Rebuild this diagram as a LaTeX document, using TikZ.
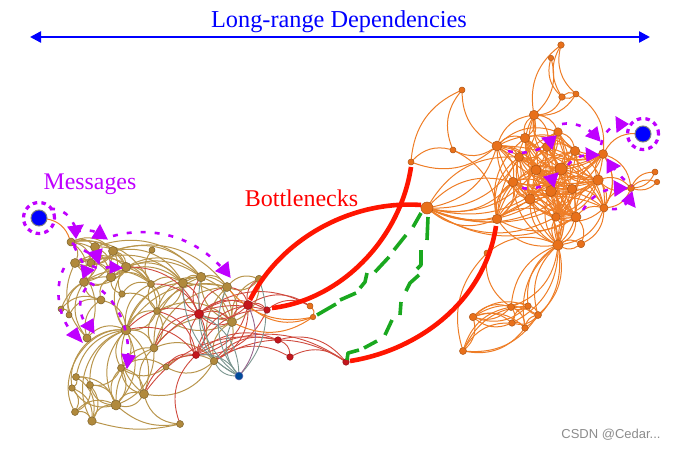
\documentclass[tikz,border=0pt]{standalone}
\usepackage{fontspec}
\setmainfont{Liberation Serif}
\newfontfamily\wmfont{Liberation Sans}
\usetikzlibrary{arrows.meta,backgrounds}
\pgfdeclarelayer{edgelayer}
\pgfsetlayers{edgelayer,main}
\definecolor{tanfill}{HTML}{B0893C}
\definecolor{tanedge}{HTML}{B8954C}
\definecolor{orafill}{HTML}{E8701A}
\definecolor{oraedge}{HTML}{EE7D26}
\definecolor{redfill}{HTML}{C4161C}
\definecolor{rededge}{HTML}{CF4A3E}
\definecolor{greyedge}{HTML}{7B9690}
\definecolor{plumedge}{HTML}{96648C}
\definecolor{msg}{HTML}{BF00FF}
\definecolor{gr}{HTML}{1AA81F}
\definecolor{thred}{HTML}{FF1500}
\tikzset{
 every node/.style={inner sep=0pt,outer sep=0pt},
 tann/.style={circle,draw=tanfill!70!black,fill=tanfill,line width=.5pt},
 oran/.style={circle,draw=orafill!75!black,fill=orafill,line width=.5pt},
 redn/.style={circle,draw=redfill!75!black,fill=redfill,line width=.5pt},
 bluen/.style={circle,draw=black!50,fill=blue,line width=1pt,minimum size=16pt},
 tane/.style={draw=tanedge,line width=1pt,bend left=34},
 orae/.style={draw=oraedge,line width=1pt,bend left=30},
 rede/.style={draw=rededge,line width=.9pt,bend left=32},
 greye/.style={draw=greyedge,line width=.9pt,bend left=30},
 msgpath/.style={draw=msg,line width=2.6pt,dash pattern=on 5pt off 9pt},
 msgtip/.style={fill=msg,draw=msg,line width=1pt,line join=miter},
 thickred/.style={draw=thred,line width=4.6pt},
 greendash/.style={draw=gr,line width=3.6pt,line cap=butt,line join=round},
 ring/.style={circle,draw=msg,line width=3.2pt,dash pattern=on 4.5pt off 4.2pt,minimum size=31pt},
}
\begin{document}
\begin{tikzpicture}[x=1pt,y=-1pt]
\useasboundingbox (0,0) rectangle (675,450);
% nodes
\foreach \n/\x/\y/\s in {
l1/71/242/7,l2/95/247/8,l3/113/251/8,l4/152/250/5,l5/75/263/8,l6/91/263/7,l7/126/267/8.5,
l8/111/277/8.5,l9/84/282/8,l10/151/284/6,l11/183/283/8,l12/201/277/8.5,l13/227/287/8,l14/259/279/6.5,
l15/101/300/7,l16/122/294/5.5,l17/61/309/5,l18/69/315/5,l19/157/311/6,l20/87/338/7,l21/126/330/9,
l22/154/348/7,l23/232/322/8,l24/214/361/6.5,l25/166/367/5,l26/121/368/6,l27/76/377/6,l28/72/388/5.5,
l29/90/385/6,l30/144/394/8,l31/116/405/9,l32/75/412/6,l33/92/421/7.5,l34/180/424/6}
 \node[tann,minimum size={\s pt+1pt}] (\n) at (\x,\y) {};
\foreach \n/\x/\y/\s in {
r1/199/314/8,r2/248/305/8,r3/267/310/5.5,r4/196/355/6,r5/278/340/5.5,r7/290/357/5.5,r8/346/362/5.5}
 \node[redn,minimum size={\s pt+1pt}] (\n) at (\x,\y) {};
\node[circle,draw=black!50!blue!60,fill=blue!50!cyan!60!black,minimum size=8pt,line width=.5pt] (bl) at (239,376) {};
\foreach \n/\x/\y/\s in {
o1/310/306/5,o2/313/317/4.5,hub/427/208/11,
a1/561/45/5.5,a2/551/58/4.5,a3/462/90/5,a4/562/97/5.5,a5/576/94/5,a6/534/115/8.5,a7/558/132/7.5,
a8/411/162/5,a9/453/150/5,a10/497/146/9,a11/525/138/8.5,a12/547/147/8,a13/575/151/8.5,a14/603/154/8,
a15/519/157/8,a16/561/169/11,a17/536/170/9,a18/598/180/9.5,a19/513/182/8.5,a20/572/189/8.5,a21/551/191/10,
a22/631/188/6,a23/655/172/5,a24/657/182/4.5,a25/530/199/9.5,a26/604/208/7,a27/497/219/8.5,a28/556/217/7.5,
a29/576/217/9,a30/558/245/9.5,a31/581/244/6.5,a32/487/253/5,
b1/511/307/6,b2/528/306/5.5,b3/538/315/6,b4/473/317/6.5,b5/512/323/5.5,b6/525/328/5.5,b7/463/351/6}
 \node[oran,minimum size={\s pt+1pt}] (\n) at (\x,\y) {};
\node[bluen] (src) at (39,218) {};
\node[bluen] (dst) at (643,134) {};
\node[ring] (srcring) at (39,218) {};
\node[ring] (dstring) at (643,134) {};
% thin edges
\begin{pgfonlayer}{edgelayer}
% left clique
\foreach \a [count=\i] in {l1,l2,l3,l5,l6,l7,l8,l9}{
 \foreach \b [count=\j] in {l1,l2,l3,l5,l6,l7,l8,l9}{
  \ifnum\j>\i \draw[tane] (\a) to (\b); \fi}}
\foreach \a/\b in {
l20/l5,l20/l9,l3/l13,l3/l12,l7/l11,l8/l11,l8/l12,l7/l12,l3/l11,l6/l11,l2/l12,l10/l11,l11/l12,l12/l13,l13/l14,l14/l13,l11/l13,
l10/l4,l17/l8,l17/l15,l18/l15,l17/l18,l18/l9,l5/l20,l15/l8,l15/l9,l16/l8,l16/l7,l1/l10,l7/l10,l8/l10,l9/l10,l5/l10,
l21/l7,l21/l16,l21/l10,l21/l19,l19/l21,l26/l21,l21/l26,l27/l21,l29/l21,l31/l21,l21/l31,l30/l21,l21/l30,l21/l22,
l31/l26,l26/l31,l27/l31,l31/l28,l29/l31,l31/l29,l30/l31,l31/l30,l32/l31,l33/l31,l31/l22,l22/l31,
l27/l28,l28/l32,l27/l29,l29/l32,l32/l33,l28/l33,l29/l33,l27/l33,l26/l29,l26/l30,l30/l26,l25/l26,l26/l25,
l34/l30,l24/l30,l25/l24,l24/l25,l22/l24,l22/l13,l22/l23,l22/l12,l22/l19,l19/l22,l19/l10,l10/l19,
l19/l12,l19/l13,l19/l23,l23/l19,l16/l19,l23/l12,l12/l23,l23/l13,l13/l23,l23/l14,l14/l23,l11/l23,l7/l19,l16/l10,l24/l23,l23/l24,
l26/l22,l30/l22,l21/l13,l21/l11,l21/l12,l20/l21,l20/l15,l15/l21,l11/l19,l24/l13}
 \draw[tane] (\a) to (\b);
\draw[tane,bend left=60] (l32) to (l21);
\draw[tane,bend left=50] (l28) to (l21);
\draw[tane,bend left=50] (l33) to (l21);
\draw[tane,bend left=14] (l34) to (l33);
\draw[tane,bend left=24] (l34) to (l31);
\foreach \a/\b in {
l30/r4,l34/r4,r1/l12,r1/l13,l11/r1,r1/l11,r1/l23,l23/r1,l21/r1,l22/r1,r1/r2,r2/r1,r4/r2,r2/r4,r4/r3,r2/r3,r1/r4,r4/r1,l7/r1,l10/r1,
r2/o1,r1/o1,l24/r5,r4/r5,l24/r8,l24/r7,r4/r8,r5/r8,r5/r7,r7/r8,l30/r5,r2/l14,l13/r2,l23/r2,l25/r4,r3/o1,l19/r4,r3/r4,r1/r3,l22/r3,r2/l24,l21/r4}
 \draw[rede] (\a) to (\b);
\foreach \a/\b in {bl/l12,bl/l13,bl/l23,bl/l11,bl/l24,l14/bl,r1/bl,bl/r1,r4/bl}
 \draw[greye] (\a) to (\b);
\draw[plumedge,line width=.9pt,bend left=30] (r2) to (bl);
\foreach \a/\b in {src/l1,o2/l23,o2/r2,o1/o2,o2/l13}
 \draw[orae] (\a) to (\b);
% right clique
\foreach \a [count=\i] in {a7,a10,a11,a12,a13,a14,a15,a16,a17,a18,a19,a20,a21,a25,a26,a27,a28,a29}{
 \foreach \b [count=\j] in {a7,a10,a11,a12,a13,a14,a15,a16,a17,a18,a19,a20,a21,a25,a26,a27,a28,a29}{
  \ifnum\j>\i
   \pgfmathtruncatemacro\k{mod(\i*\i+\j*5,4)}
   \ifnum\k>0 \ifodd\j \draw[orae] (\a) to (\b); \else \draw[orae] (\b) to (\a); \fi \fi
  \fi}}
\foreach \a/\b in {
a8/a3,a10/a3,a9/a3,a8/a9,a10/a8,a10/a9,a9/a27,a10/hub,a27/hub,
hub/a19,hub/a15,a19/hub,a15/hub,a25/hub,a21/hub,a28/hub,a29/hub,a17/hub,a20/hub,a16/hub,a18/hub,
a6/a1,a2/a6,a4/a1,a5/a1,a4/a2,a4/a6,a5/a6,a4/a5,a5/a4,a5/a14,a10/a6,a6/a11,a11/a6,a6/a12,a12/a6,a6/a15,a17/a6,a16/a6,a21/a6,a6/a7,
a14/dst,a22/a23,a22/a24,a23/a22,a24/a22,a18/a22,a14/a22,a22/a18,a26/a22,a22/a26,
a30/a31,a31/a30,a29/a31,a26/a31,a26/a30,a30/a29,a29/a30,a28/a30,a30/a28,a30/a21,a21/a30,a25/a30,a30/a25,a30/a20,a20/a30,a30/a17,a17/a30,a30/a27,a19/a30,a30/a19,a30/a18,a27/a19,a19/a27,a15/a27,
b1/a32,b1/a30,b2/a30,a30/b3,b3/a30,a30/b5,b6/a30,a30/b6,a30/b1,a32/a30,
b7/a32,b4/b7,b7/b1,b7/b5,b6/b7,b3/b7,b7/b2,b4/b1,b1/b4,b4/b2,b2/b4,b4/b5,b5/b4,b4/b6,b4/b3,b1/b2,b2/b1,b1/b5,b5/b2,b1/b6,b6/b3,b3/b5,b2/b3,b3/b2,b5/b6,a13/a26,a14/a26}
 \draw[orae] (\a) to (\b);
\end{pgfonlayer}
% thick red links
\draw[thickred] (250,300) .. controls (280,240) and (350,200) .. (421,205);
\draw[thickred] (272,308) .. controls (340,300) and (400,240) .. (411,167);
\draw[thickred] (350,361) .. controls (420,350) and (485,300) .. (496,226);
% green dashes
\foreach \p in {
{(421,213) -- (413,227)},{(406,235) -- (394,250)},{(389,257) -- (375,272)},
{(367,273) -- (365,282) -- (360,288)},{(356,293) -- (340,300)},{(336,304) -- (317,315)},
{(428,217) -- (427,240)},{(421,250) -- (421,265) -- (417,269)},{(419,275) -- (410,283) -- (406,291)},
{(401,302) -- (400,315)},{(392,320) -- (385,335)},{(377,341) -- (364,348)},{(359,350) -- (348,353) -- (347,360)}}
 \draw[greendash] \p;
% messages
\draw[msgpath] (50,209) .. controls (62,208) and (72,216) .. (76,230);
\draw[msgpath] (76,232) .. controls (84,229) and (92,230) .. (98,233);
\draw[msgpath] (113,236) .. controls (145,227) and (190,232) .. (222,268);
\draw[msgpath] (72,243) .. controls (78,248) and (88,252) .. (94,256);
\draw[msgpath] (74,246) .. controls (78,254) and (82,262) .. (87,270);
\draw[msgpath] (92,266) .. controls (98,270) and (104,267) .. (115,267);
\draw[msgpath] (64,268) .. controls (55,285) and (56,315) .. (74,335);
\draw[msgpath] (86,288) .. controls (77,300) and (79,315) .. (87,326);
\draw[msgpath] (90,283) .. controls (110,292) and (130,320) .. (128,358);
\draw[msgpath] (508,151) .. controls (520,155) and (535,152) .. (548,145);
\draw[msgpath] (562,124) .. controls (573,122) and (585,126) .. (595,135);
\draw[msgpath] (601,145) .. controls (603,135) and (610,125) .. (620,124);
\draw[msgpath] (568,165) .. controls (574,157) and (582,155) .. (592,155);
\draw[msgpath] (612,166) .. controls (618,174) and (624,180) .. (632,186);
\draw[msgpath] (522,188) .. controls (532,190) and (542,187) .. (550,182);
\draw[msgpath] (583,210) .. controls (590,198) and (602,188) .. (620,188);
\draw[msgpath] (612,209) .. controls (620,210) and (626,205) .. (630,198);
\foreach \p in {
{(68,227) -- (83,225) -- (76,238)},{(100,225) -- (92,238) -- (107,239)},{(88,253) -- (102,249) -- (99,264)},
{(81,265) -- (94,270) -- (83,278)},{(110,261) -- (122,268) -- (110,273)},{(216,271) -- (228,262) -- (230,277)},
{(81,326) -- (93,319) -- (94,333)},{(67,335) -- (77,328) -- (82,342)},{(122,354) -- (135,356) -- (127,368)},
{(542,138) -- (556,136) -- (552,149)},{(586,136) -- (597,127) -- (600,141)},{(616,117) -- (628,124) -- (617,132)},
{(586,148) -- (599,155) -- (587,161)},{(607,159) -- (620,166) -- (607,173)},{(544,177) -- (558,173) -- (554,187)},
{(614,181) -- (627,188) -- (615,196)},{(622,201) -- (632,192) -- (635,207)}}
 \filldraw[msgtip] \p -- cycle;
% range arrow
\coordinate (arrL) at (30,37);
\coordinate (arrR) at (650,37);
\draw[blue,line width=2.4pt,{Triangle[length=11pt,width=11pt]}-{Triangle[length=11pt,width=11pt]}] (arrL) -- (arrR);
% labels
\node[text=blue,font=\fontsize{24.3}{28}\selectfont] (ttl) at (339,22) {Long-range Dependencies};
\node[text=msg,font=\fontsize{23.8}{28}\selectfont] (msgl) at (90,184) {Messages};
\node[text=red,font=\fontsize{24}{28}\selectfont] (botl) at (301.5,198.5) {Bottlenecks};
\node[text=black!45,font=\wmfont\fontsize{13}{15}\selectfont] (wm) at (611,435) {CSDN @Cedar...};
\end{tikzpicture}
\end{document}
